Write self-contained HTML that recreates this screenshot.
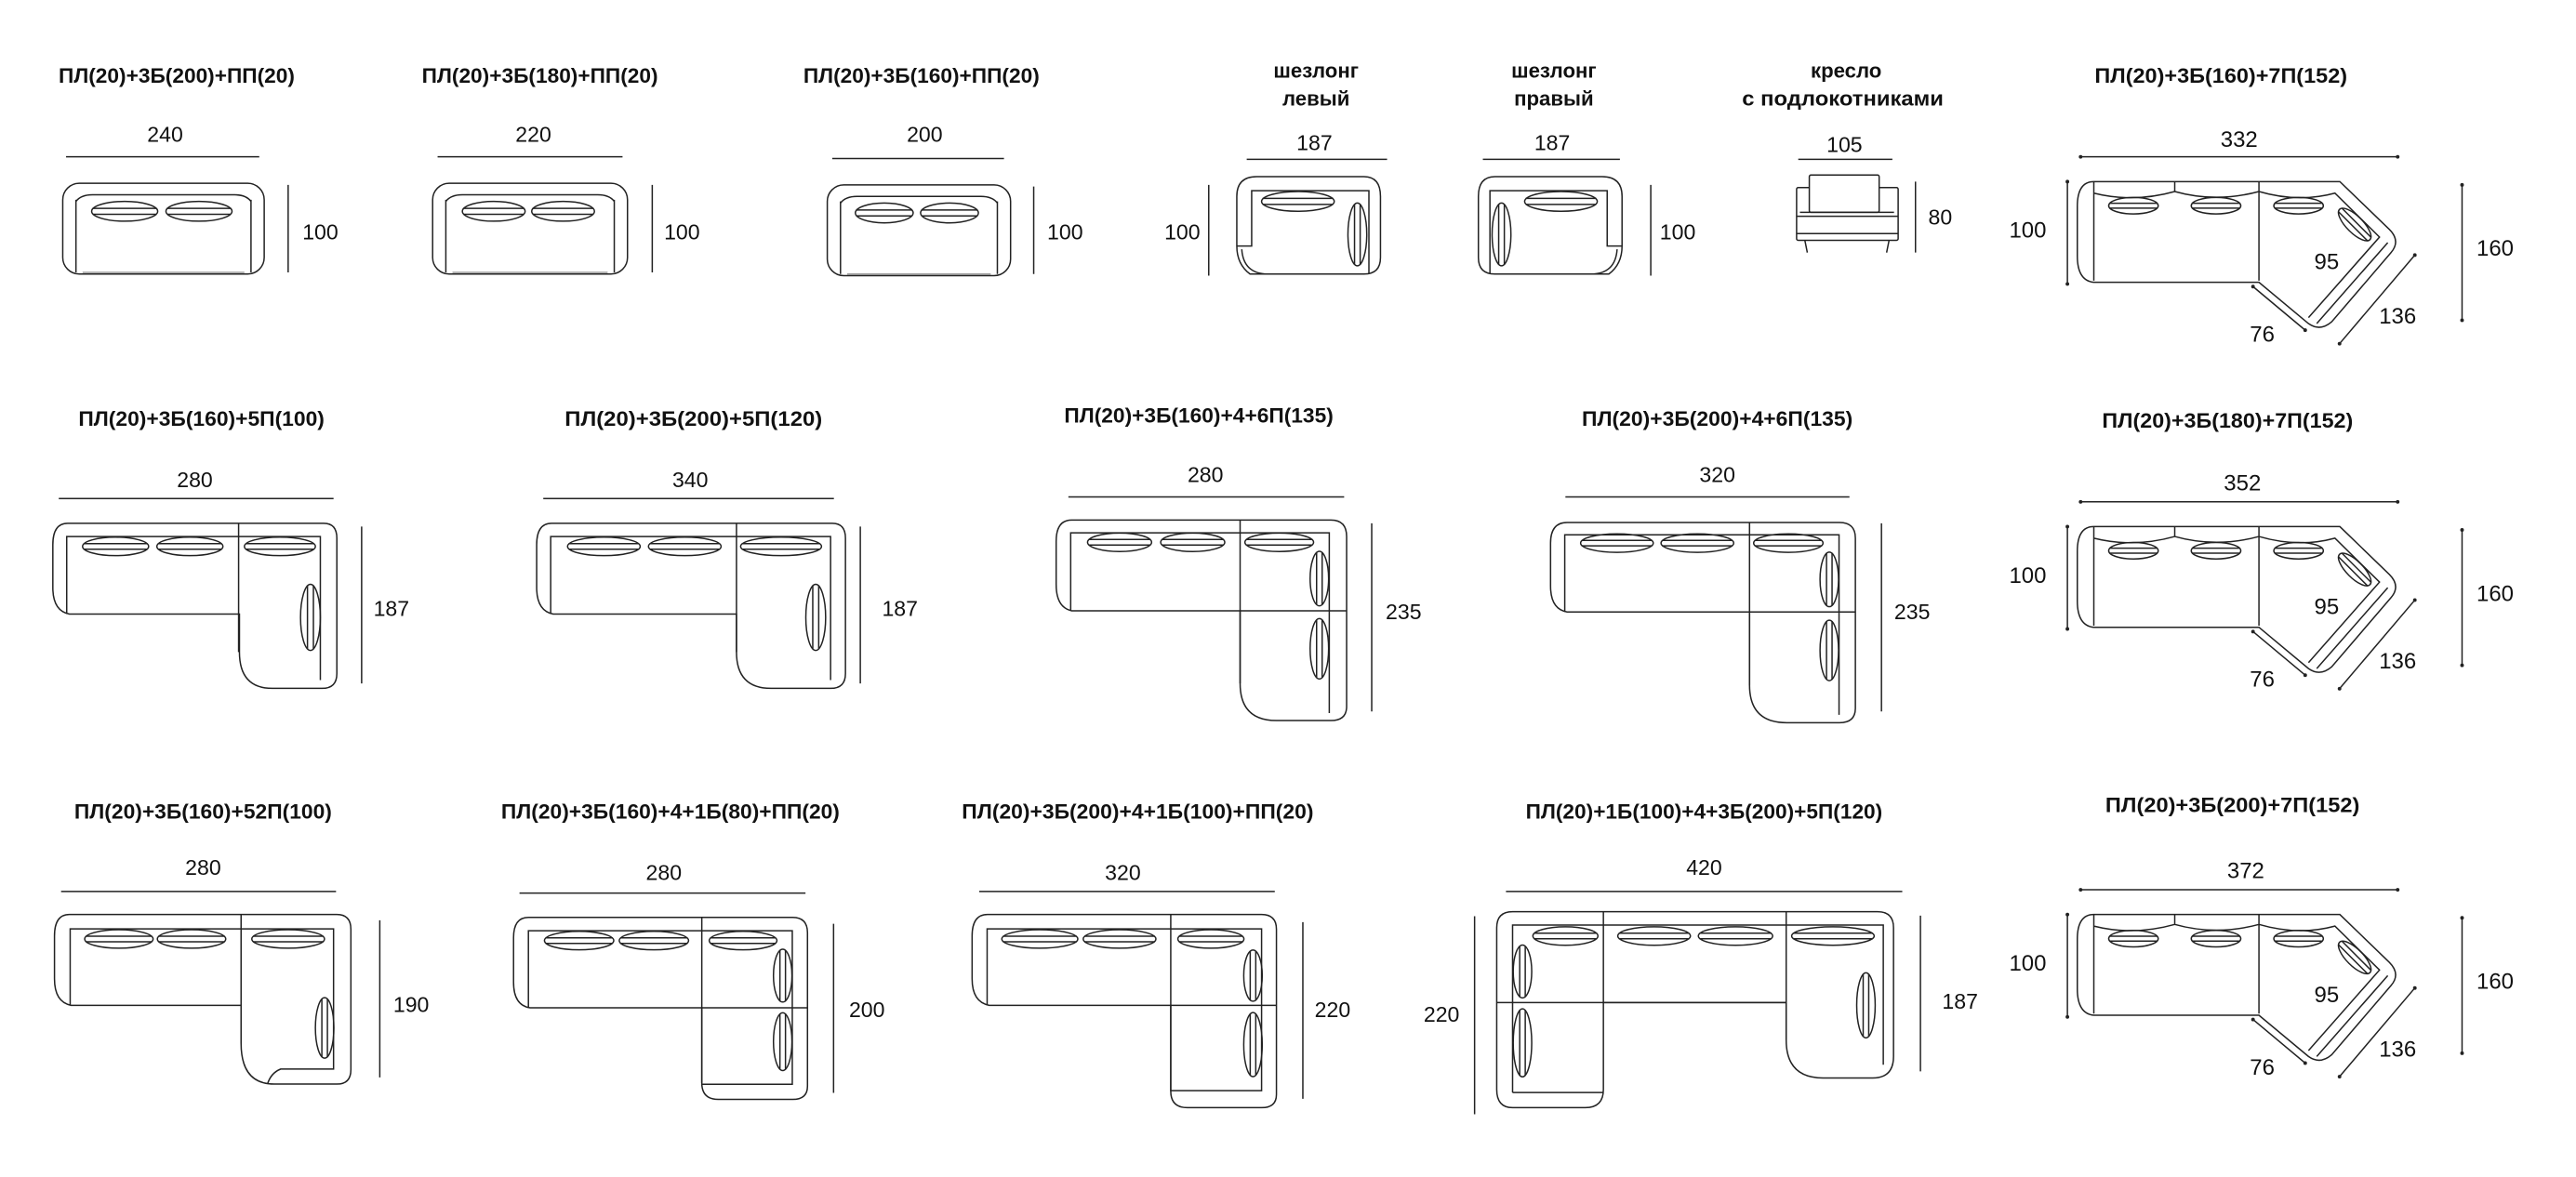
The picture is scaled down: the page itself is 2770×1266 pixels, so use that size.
<!DOCTYPE html>
<html><head><meta charset="utf-8"><style>
html,body{margin:0;padding:0;background:#fff;}
svg{display:block}
svg *{vector-effect:non-scaling-stroke}
.s{fill:none;stroke:#222;stroke-width:1.5}
.w{fill:#fff;stroke:#222;stroke-width:1.5}
.t{font-family:"Liberation Sans","DejaVu Sans",sans-serif;font-weight:bold;font-size:12.5px;fill:#111;text-anchor:middle}
.d{font-family:"Liberation Sans","DejaVu Sans",sans-serif;font-size:13px;fill:#111;text-anchor:middle}
.c{font-family:"Liberation Sans","DejaVu Sans",sans-serif;font-size:13.5px;fill:#111;text-anchor:middle}
</style></head><body>
<svg width="2770" height="1266" viewBox="0 0 1560 713" preserveAspectRatio="none" xmlns="http://www.w3.org/2000/svg" xmlns:xlink="http://www.w3.org/1999/xlink">
<defs>
<g id="ch" class="s"><ellipse cx="0" cy="0" rx="1" ry="1"/><line x1="-0.97" y1="-0.3" x2="0.97" y2="-0.3"/><line x1="-0.97" y1="0.3" x2="0.97" y2="0.3"/></g>
<g id="cv" class="s"><ellipse cx="0" cy="0" rx="1" ry="1"/><line y1="-0.97" x1="-0.3" y2="0.97" x2="-0.3"/><line y1="-0.97" x1="0.3" y2="0.97" x2="0.3"/></g>
<g id="chaiseL">
<path class="s" d="M757,166 Q749,160 749,149 V119 Q749,107 761,107 H826 Q836,107 836,119 V156 Q836,166 826,166 Z"/>
<path class="s" d="M749,149 H758 V115.5 H829 V166 M752,151 Q753,166 768,166"/>
<use xlink:href="#ch" transform="translate(786,122) scale(22,6)"/>
<use xlink:href="#cv" transform="translate(822,142) scale(5.7,19)"/>
</g>
<g id="corner">
<path class="s" d="M1268,110 H1417 L1447,139 Q1454,146 1448,153 L1412,195 Q1405,201 1398,196 L1368,171 H1268 Q1258,170 1258,155 V125 Q1258,110 1268,110 Z"/>
<path class="s" d="M1268,110 V170 M1368,110 V170 M1317,110 V116 M1268,117 Q1292,123 1317,116 Q1342,123 1368,116 Q1392,123 1414,117 L1441,143.6 L1398,192.4 M1446,147 L1403,196"/>
<use xlink:href="#ch" transform="translate(1292,124.6) scale(15,5)"/>
<use xlink:href="#ch" transform="translate(1342,124.6) scale(15,5)"/>
<use xlink:href="#ch" transform="translate(1392,124.6) scale(15,5)"/>
<use xlink:href="#ch" transform="translate(1426,136) rotate(45) scale(13,5)"/>
<path class="s" d="M1260,95 H1452 M1252,110 V172 M1491,112 V194 M1364.4,173.6 L1396,200 M1462.4,154.5 L1416.8,208.2"/>
<g fill="#222"><circle cx="1260" cy="95" r="1.1"/><circle cx="1452" cy="95" r="1.1"/><circle cx="1252" cy="110" r="1.1"/><circle cx="1252" cy="172" r="1.1"/><circle cx="1491" cy="112" r="1.1"/><circle cx="1491" cy="194" r="1.1"/><circle cx="1364.4" cy="173.6" r="1.1"/><circle cx="1396" cy="200" r="1.1"/><circle cx="1462.4" cy="154.5" r="1.1"/><circle cx="1416.8" cy="208.2" r="1.1"/></g>
</g>
</defs>

<!-- ROW 1 -->
<text class="t" x="107" y="50" textLength="143" lengthAdjust="spacingAndGlyphs">ПЛ(20)+3Б(200)+ПП(20)</text>
<text class="t" x="327" y="50" textLength="143" lengthAdjust="spacingAndGlyphs">ПЛ(20)+3Б(180)+ПП(20)</text>
<text class="t" x="558" y="50" textLength="143" lengthAdjust="spacingAndGlyphs">ПЛ(20)+3Б(160)+ПП(20)</text>
<text class="t" x="797" y="47">шезлонг</text><text class="t" x="797" y="64">левый</text>
<text class="t" x="941" y="47">шезлонг</text><text class="t" x="941" y="64">правый</text>
<text class="t" x="1118" y="47">кресло</text><text class="t" x="1116" y="64" textLength="122" lengthAdjust="spacingAndGlyphs">с подлокотниками</text>
<text class="t" x="1345" y="50" textLength="153" lengthAdjust="spacingAndGlyphs">ПЛ(20)+3Б(160)+7П(152)</text>

<!-- sofa 1 -->
<text class="d" x="100" y="86">240</text>
<path class="s" d="M40,95 H157 M174.5,112 V165"/>
<text class="d" x="194" y="145">100</text>
<rect class="s" x="38" y="111" width="122" height="55" rx="10"/>
<path class="s" d="M46,165 V121 M152,165 V121 M46,122 Q49,118 56,118 H142 Q149,118 152,122"/>
<path d="M50,165 H148" stroke="#999" stroke-width="1.5" fill="none"/>
<use xlink:href="#ch" transform="translate(75.5,128) scale(20,6)"/>
<use xlink:href="#ch" transform="translate(120.5,128) scale(20,6)"/>
<!-- sofa 2 -->
<text class="d" x="323" y="86">220</text>
<path class="s" d="M265,95 H377 M395,112 V165"/>
<text class="d" x="413" y="145">100</text>
<rect class="s" x="262" y="111" width="118" height="55" rx="10"/>
<path class="s" d="M270,165 V121 M372,165 V121 M270,122 Q273,118 280,118 H362 Q369,118 372,122"/>
<path d="M274,165 H368" stroke="#999" stroke-width="1.5" fill="none"/>
<use xlink:href="#ch" transform="translate(299,128) scale(19,6)"/>
<use xlink:href="#ch" transform="translate(341,128) scale(19,6)"/>
<!-- sofa 3 -->
<text class="d" x="560" y="86">200</text>
<path class="s" d="M504,96 H608 M626,113 V166"/>
<text class="d" x="645" y="145">100</text>
<rect class="s" x="501" y="112" width="111" height="55" rx="10"/>
<path class="s" d="M509,166 V122 M604,166 V122 M509,123 Q512,119 519,119 H594 Q601,119 604,123"/>
<path d="M513,166 H600" stroke="#999" stroke-width="1.5" fill="none"/>
<use xlink:href="#ch" transform="translate(535.5,129) scale(17.5,6)"/>
<use xlink:href="#ch" transform="translate(575,129) scale(17.5,6)"/>
<!-- chaises -->
<text class="d" x="796" y="91">187</text>
<path class="s" d="M755,96.5 H840 M732,112 V167"/>
<text class="d" x="716" y="145">100</text>
<use xlink:href="#chaiseL"/>
<text class="d" x="940" y="91">187</text>
<path class="s" d="M898,96.5 H981 M999.7,112 V167"/>
<text class="d" x="1016" y="145">100</text>
<use xlink:href="#chaiseL" transform="matrix(-1,0,0,1,1731.3,0)"/>
<!-- chair -->
<text class="d" x="1117" y="92">105</text>
<path class="s" d="M1089,96.5 H1146 M1160,110 V153"/>
<text class="d" x="1175" y="136">80</text>
<rect class="s" x="1088" y="113.6" width="61.5" height="32" rx="1"/>
<rect class="w" x="1095.7" y="106" width="42.3" height="22.6" rx="1"/>
<path class="s" d="M1088,131 H1149.5 M1088,141.5 H1149.5 M1093,145.6 L1094.5,153 M1144,145.6 L1142.5,153"/>
<path d="M1090,128.6 H1147" stroke="#222" stroke-width="1.5" fill="none"/>
<!-- corner 1 -->
<use xlink:href="#corner"/>
<text class="c" x="1356" y="89">332</text>
<text class="c" x="1228" y="144">100</text>
<text class="c" x="1511" y="155">160</text>
<text class="c" x="1409" y="163">95</text>
<text class="c" x="1370" y="207">76</text>
<text class="c" x="1452" y="196">136</text>

<!-- ROW 2 -->
<text class="t" x="122" y="258" textLength="149" lengthAdjust="spacingAndGlyphs">ПЛ(20)+3Б(160)+5П(100)</text>
<text class="t" x="420" y="258" textLength="156" lengthAdjust="spacingAndGlyphs">ПЛ(20)+3Б(200)+5П(120)</text>
<text class="t" x="726" y="256" textLength="163" lengthAdjust="spacingAndGlyphs">ПЛ(20)+3Б(160)+4+6П(135)</text>
<text class="t" x="1040" y="258" textLength="164" lengthAdjust="spacingAndGlyphs">ПЛ(20)+3Б(200)+4+6П(135)</text>
<text class="t" x="1349" y="259" textLength="152" lengthAdjust="spacingAndGlyphs">ПЛ(20)+3Б(180)+7П(152)</text>

<!-- r2 item1 -->
<text class="d" x="118" y="295">280</text>
<path class="s" d="M35.6,302 H202 M219,319 V414"/>
<text class="d" x="237" y="373">187</text>
<path class="s" d="M41,317 H196 Q204,317 204,326 V408 Q204,417 195,417 H165 Q145,417 145,395 V372 H42 Q32,370 32,356 V330 Q32,317 41,317 Z"/>
<path class="s" d="M40.4,372 V325 H194 V412 M144.5,317 V395"/>
<use xlink:href="#ch" transform="translate(70,331) scale(20,5.6)"/>
<use xlink:href="#ch" transform="translate(115,331) scale(20,5.6)"/>
<use xlink:href="#ch" transform="translate(169.5,331) scale(21.5,5.6)"/>
<use xlink:href="#cv" transform="translate(188,374) scale(6,20)"/>
<!-- r2 item2 -->
<text class="d" x="418" y="295">340</text>
<path class="s" d="M329,302 H505 M521,319 V414"/>
<text class="d" x="545" y="373">187</text>
<path class="s" d="M334,317 H504 Q512,317 512,326 V408 Q512,417 503,417 H467 Q446,417 446,395 V372 H335 Q325,370 325,356 V330 Q325,317 334,317 Z"/>
<path class="s" d="M333.5,372 V325 H503 V412 M446,317 V395"/>
<use xlink:href="#ch" transform="translate(365.7,331) scale(22,5.6)"/>
<use xlink:href="#ch" transform="translate(414.7,331) scale(22,5.6)"/>
<use xlink:href="#ch" transform="translate(473,331) scale(24.5,5.6)"/>
<use xlink:href="#cv" transform="translate(494,374) scale(6,20)"/>
<!-- r2 item3 -->
<text class="d" x="730" y="292">280</text>
<path class="s" d="M647,301 H814 M830.7,317 V431"/>
<text class="d" x="850" y="375">235</text>
<path class="s" d="M649,315 H806 Q815.5,315 815.5,325 V428 Q815.5,436.5 806,436.5 H773 Q751,436.5 751,414 V370 H649 Q639.6,368 639.6,354 V328 Q639.6,315 649,315 Z"/>
<path class="s" d="M648.4,370 V322.8 H805 V432 M751,315 V414 M751,370 H815.5"/>
<use xlink:href="#ch" transform="translate(678,328.5) scale(19.4,5.6)"/>
<use xlink:href="#ch" transform="translate(722.3,328.5) scale(19.4,5.6)"/>
<use xlink:href="#ch" transform="translate(774.7,328.5) scale(20.8,5.6)"/>
<use xlink:href="#cv" transform="translate(799,350.5) scale(5.6,16.5)"/>
<use xlink:href="#cv" transform="translate(799,393) scale(5.6,18.3)"/>
<!-- r2 item4 -->
<text class="d" x="1040" y="292">320</text>
<path class="s" d="M948,301 H1120 M1139.4,317 V431"/>
<text class="d" x="1158" y="375">235</text>
<path class="s" d="M949,316.5 H1114 Q1123.6,316.5 1123.6,326 V429 Q1123.6,437.8 1114,437.8 H1082 Q1059.5,437.8 1059.5,415 V370.7 H949 Q939,369 939,355 V329 Q939,316.5 949,316.5 Z"/>
<path class="s" d="M947.6,370.7 V324 H1113.7 V433 M1059.5,316.5 V415 M1059.5,370.7 H1123.6"/>
<use xlink:href="#ch" transform="translate(979.2,329) scale(22,5.6)"/>
<use xlink:href="#ch" transform="translate(1027.9,329) scale(22,5.6)"/>
<use xlink:href="#ch" transform="translate(1083,329) scale(21,5.6)"/>
<use xlink:href="#cv" transform="translate(1107.8,351) scale(5.6,16.5)"/>
<use xlink:href="#cv" transform="translate(1107.8,394) scale(5.6,18.3)"/>
<!-- r2 corner -->
<use xlink:href="#corner" transform="translate(0,209)"/>
<text class="c" x="1358" y="297">352</text>
<text class="c" x="1228" y="353">100</text>
<text class="c" x="1511" y="364">160</text>
<text class="c" x="1409" y="372">95</text>
<text class="c" x="1370" y="416">76</text>
<text class="c" x="1452" y="405">136</text>

<!-- ROW 3 -->
<text class="t" x="123" y="496" textLength="156" lengthAdjust="spacingAndGlyphs">ПЛ(20)+3Б(160)+52П(100)</text>
<text class="t" x="406" y="496" textLength="205" lengthAdjust="spacingAndGlyphs">ПЛ(20)+3Б(160)+4+1Б(80)+ПП(20)</text>
<text class="t" x="689" y="496" textLength="213" lengthAdjust="spacingAndGlyphs">ПЛ(20)+3Б(200)+4+1Б(100)+ПП(20)</text>
<text class="t" x="1032" y="496" textLength="216" lengthAdjust="spacingAndGlyphs">ПЛ(20)+1Б(100)+4+3Б(200)+5П(120)</text>
<text class="t" x="1352" y="492" textLength="154" lengthAdjust="spacingAndGlyphs">ПЛ(20)+3Б(200)+7П(152)</text>

<!-- r3 item1 -->
<text class="d" x="123" y="530">280</text>
<path class="s" d="M37,540 H203.5 M230,557.5 V652.7"/>
<text class="d" x="249" y="613">190</text>
<path class="s" d="M42,554 H204 Q212.5,554 212.5,563 V648 Q212.5,656.7 204,656.7 H166 Q146,656.7 146,632 V609 H43 Q33,607 33,593 V567 Q33,554 42,554 Z"/>
<path class="s" d="M42.5,609 V562.7 H202 V647.6 H170 Q164,650 162,656.7 M146,554 V632"/>
<use xlink:href="#ch" transform="translate(72,568.8) scale(20.7,5.6)"/>
<use xlink:href="#ch" transform="translate(116,568.8) scale(20.7,5.6)"/>
<use xlink:href="#ch" transform="translate(174.5,568.8) scale(22,5.6)"/>
<use xlink:href="#cv" transform="translate(196.6,622.7) scale(5.6,18.3)"/>
<!-- r3 item2 -->
<text class="d" x="402" y="533">280</text>
<path class="s" d="M314.6,541 H487.8 M504.8,559.6 V662"/>
<text class="d" x="525" y="616">200</text>
<path class="s" d="M320,555.7 H480 Q489,555.7 489,565 V658 Q489,666 480,666 H435 Q425,666 425,656 V610.5 H321 Q311,609 311,595 V568 Q311,555.7 320,555.7 Z"/>
<path class="s" d="M320,610.5 V563.8 H479.8 V656.8 H425 M425,555.7 V656 M425,610.5 H489"/>
<use xlink:href="#ch" transform="translate(350.7,569.8) scale(21,5.6)"/>
<use xlink:href="#ch" transform="translate(396,569.8) scale(21,5.6)"/>
<use xlink:href="#ch" transform="translate(450,569.8) scale(20.5,5.6)"/>
<use xlink:href="#cv" transform="translate(474,591) scale(5.6,16)"/>
<use xlink:href="#cv" transform="translate(474,631) scale(5.6,17.5)"/>
<!-- r3 item3 -->
<text class="d" x="680" y="533">320</text>
<path class="s" d="M593,540 H772 M789,558.6 V665.6"/>
<text class="d" x="807" y="616">220</text>
<path class="s" d="M598,554 H764 Q773,554 773,563 V663 Q773,671 764,671 H719 Q709,671 709,661 V609 H599 Q588.7,607 588.7,593 V567 Q588.7,554 598,554 Z"/>
<path class="s" d="M597.8,609 V562.7 H764 V660.7 H709 M709,554 V661 M709,609 H773"/>
<use xlink:href="#ch" transform="translate(629.7,568.8) scale(23,5.6)"/>
<use xlink:href="#ch" transform="translate(678,568.8) scale(22,5.6)"/>
<use xlink:href="#ch" transform="translate(733.3,568.8) scale(20,5.6)"/>
<use xlink:href="#cv" transform="translate(758.8,591) scale(5.6,15.5)"/>
<use xlink:href="#cv" transform="translate(758.8,632.8) scale(5.6,19.4)"/>
<!-- r3 item4 -->
<text class="d" x="1032" y="530">420</text>
<path class="s" d="M912,540 H1152 M893,555 V675 M1163,554.7 V649"/>
<text class="d" x="873" y="619">220</text>
<text class="d" x="1187" y="611">187</text>
<path class="s" d="M916,552.3 H1137 Q1146.7,552.3 1146.7,562 V640 Q1146.7,653 1134,653 H1104 Q1081.7,653 1081.7,630 V607.3 H971 V660 Q971,671 960,671 H916 Q906.4,671 906.4,660 V562 Q906.4,552.3 916,552.3 Z"/>
<path class="s" d="M916,661.8 V560.4 H1140.5 V645 M916,661.8 H971 M971,552.3 V607.3 M1081.7,552.3 V630 M906.4,607.3 H1081.7"/>
<use xlink:href="#ch" transform="translate(948,567) scale(19.7,5.6)"/>
<use xlink:href="#ch" transform="translate(1001.7,567) scale(22,5.6)"/>
<use xlink:href="#ch" transform="translate(1051,567) scale(22.5,5.6)"/>
<use xlink:href="#ch" transform="translate(1110,567) scale(25,5.6)"/>
<use xlink:href="#cv" transform="translate(922,588.5) scale(5.6,16)"/>
<use xlink:href="#cv" transform="translate(922,631.7) scale(5.6,20.6)"/>
<use xlink:href="#cv" transform="translate(1130,609) scale(5.6,19.7)"/>
<!-- r3 corner -->
<use xlink:href="#corner" transform="translate(0,444)"/>
<text class="c" x="1360" y="532">372</text>
<text class="c" x="1228" y="588">100</text>
<text class="c" x="1511" y="599">160</text>
<text class="c" x="1409" y="607">95</text>
<text class="c" x="1370" y="651">76</text>
<text class="c" x="1452" y="640">136</text>
</svg>
</body></html>
